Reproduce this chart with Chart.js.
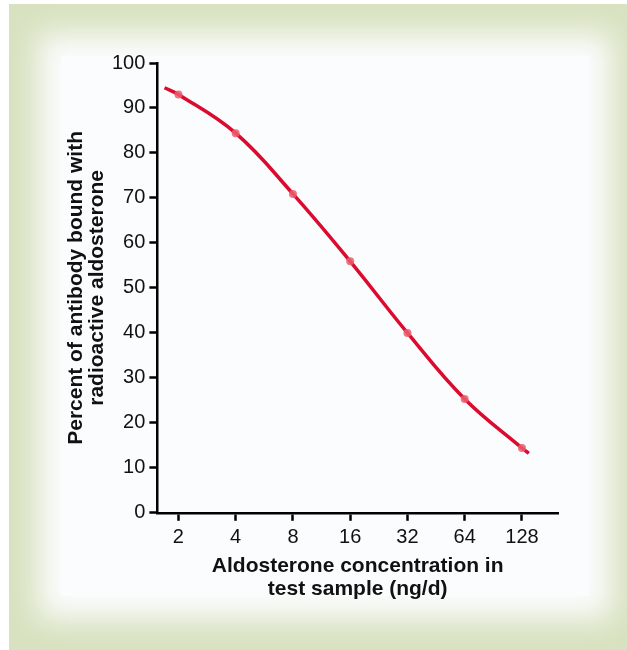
<!DOCTYPE html>
<html>
<head>
<meta charset="utf-8">
<script src="https://cdn.jsdelivr.net/npm/chart.js@4.4.1/dist/chart.umd.min.js"></script>
<style>
  html, body { margin: 0; padding: 0; background: #ffffff; }
  #page { position: relative; width: 627px; height: 650px; overflow: hidden; background: #ffffff; }
  #frame { position: absolute; left: 9px; top: 4px; right: 0; bottom: 0; background: #d8e2c0; overflow: hidden; }
  #panel { position: absolute; left: 52px; top: 52px; width: 528px; height: 540px; background: #fbfcfd;
           box-shadow: 0 0 28px 22px #fbfcfd; }
  #wrap { position: absolute; left: 0; top: 0; width: 627px; height: 650px; }
</style>
</head>
<body>
<div id="page">
  <div id="frame"><div id="panel"></div></div>
  <div id="wrap"><canvas id="c" width="627" height="650"></canvas></div>
</div>
<script>
const concentrations = [1.69, 2, 4, 8, 16, 32, 64, 128, 139];
const percentBound   = [94.5, 93.0, 84.4, 70.9, 55.9, 40.0, 25.3, 14.4, 13.2];
const markerRadius   = [0, 4, 4, 4, 4, 4, 4, 4, 0];
const xTickValues    = [2, 4, 8, 16, 32, 64, 128];
const yTitleLines    = ['Percent of antibody bound with', 'radioactive aldosterone'];
const xTitleLines    = ['Aldosterone concentration in', 'test sample (ng/d)'];

const points = concentrations.map((x, i) => ({ x: x, y: percentBound[i] }));
const FONT = "'Liberation Sans', Arial, Helvetica, sans-serif";

new Chart(document.getElementById('c'), {
  type: 'line',
  data: {
    datasets: [{
      data: points,
      borderColor: '#db0a2e',
      borderWidth: 3.5,
      tension: 0.4,
      pointRadius: markerRadius,
      pointBackgroundColor: 'rgba(236,92,108,0.85)',
      pointBorderWidth: 0,
      fill: false
    }]
  },
  options: {
    responsive: false,
    animation: false,
    events: [],
    layout: { padding: { left: 66, top: 63, right: 69, bottom: 49 } },
    plugins: { legend: { display: false }, tooltip: { enabled: false } },
    scales: {
      x: {
        type: 'logarithmic',
        min: 1.55,
        max: 198,
        afterBuildTicks: (axis) => { axis.ticks = xTickValues.map(v => ({ value: v })); },
        ticks: {
          autoSkip: false, maxRotation: 0, padding: 5,
          color: '#111', font: { family: FONT, size: 20 },
          callback: (v) => String(v)
        },
        grid: { drawOnChartArea: false, drawTicks: true, tickLength: 8, tickWidth: 2.5, tickColor: '#000' },
        border: { display: true, color: '#000', width: 2.5 },
        title: {
          display: true, text: xTitleLines, color: '#111',
          font: { family: FONT, size: 21, weight: 'bold', lineHeight: 1.1 },
          padding: { top: 0, bottom: 0 }
        }
      },
      y: {
        type: 'linear',
        min: 0, max: 100,
        ticks: {
          stepSize: 10, padding: 4,
          color: '#111', font: { family: FONT, size: 20 }
        },
        grid: { drawOnChartArea: false, drawTicks: true, tickLength: 8, tickWidth: 2.5, tickColor: '#000' },
        border: { display: true, color: '#000', width: 2.5 },
        title: {
          display: true, text: yTitleLines, color: '#111',
          font: { family: FONT, size: 21, weight: 'bold', lineHeight: 1.0 },
          padding: { top: 0, bottom: 0 }
        }
      }
    }
  }
});
</script>
</body>
</html>
